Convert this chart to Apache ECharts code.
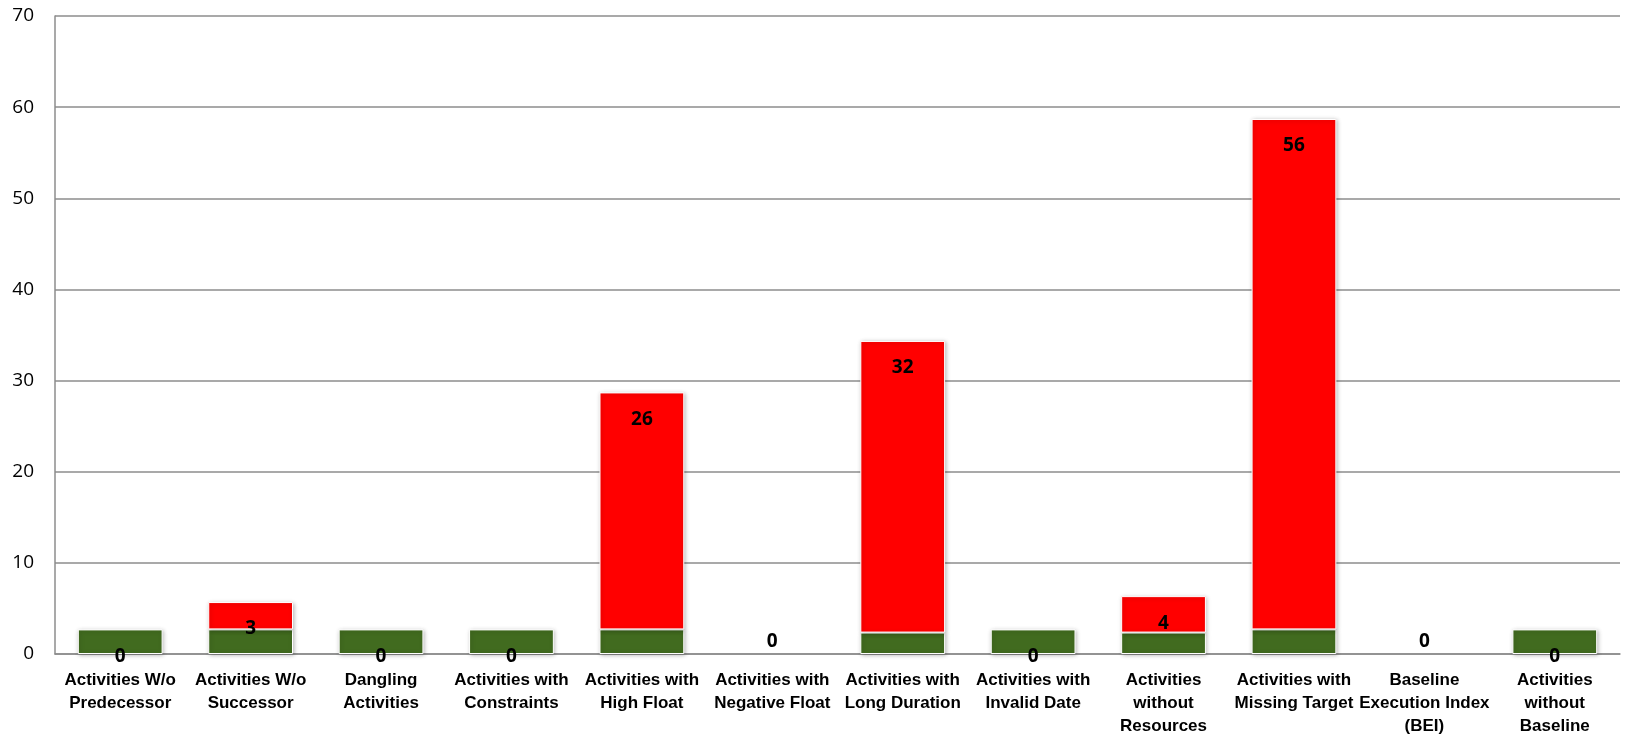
<!DOCTYPE html>
<html>
<head>
<meta charset="utf-8">
<script src="https://cdn.jsdelivr.net/npm/echarts@6/dist/echarts.min.js"></script>
<style>
html,body{margin:0;padding:0;background:#fff;}
#chart{width:1627px;height:751px;}
</style>
</head>
<body>
<div id="chart"></div>
<script>
const categories = [
  "Activities W/o\nPredecessor",
  "Activities W/o\nSuccessor",
  "Dangling\nActivities",
  "Activities with\nConstraints",
  "Activities with\nHigh Float",
  "Activities with\nNegative Float",
  "Activities with\nLong Duration",
  "Activities with\nInvalid Date",
  "Activities\nwithout\nResources",
  "Activities with\nMissing Target",
  "Baseline\nExecution Index\n(BEI)",
  "Activities\nwithout\nBaseline"
];
const baseValues = [2.7, 2.7, 2.7, 2.7, 2.7, 0, 2.35, 2.7, 2.35, 2.7, 0, 2.7];
const issueValues = [0, 3, 0, 0, 26, 0, 32, 0, 4, 56, 0, 0];
const yTicks = { min: 0, max: 70, interval: 10 };

const GREEN = '#416B1F';
const RED = '#FF0000';
const barStyle = c => ({
  color: c,
  borderColor: '#ffffff',
  borderWidth: 1,
  shadowBlur: 4,
  shadowOffsetX: 1,
  shadowOffsetY: 1,
  shadowColor: 'rgba(0,0,0,0.25)'
});
const flatStyle = { color: 'rgba(0,0,0,0)', borderColor: 'rgba(0,0,0,0)', borderWidth: 0, shadowBlur: 0, shadowOffsetX: 0, shadowOffsetY: 0, shadowColor: 'rgba(0,0,0,0)' };

const labelFont = { fontFamily: 'Noto Sans', fontWeight: 'bold', fontSize: 19, color: '#000', lineHeight: 20 };

const greenData = baseValues.map(v => (v === 0 ? '-' : v));
const redData = issueValues.map((v, i) => {
  const item = { value: v };
  if (v === 0) item.itemStyle = flatStyle;
  if (baseValues[i] === 0) item.label = { position: 'top', distance: 2 };
  return item;
});

const chart = echarts.init(document.getElementById('chart'), null, { renderer: 'canvas' });
chart.setOption({
  animation: false,
  backgroundColor: '#ffffff',
  grid: { left: 55, right: 7, top: 16, bottom: 97, containLabel: false },
  xAxis: {
    type: 'category',
    data: categories,
    axisTick: { show: false },
    axisLine: { lineStyle: { color: '#8c8c8c', width: 1.5 } },
    axisLabel: {
      interval: 0,
      margin: 15,
      fontFamily: 'Liberation Sans Narrow, Liberation Sans, Arial Narrow, sans-serif',
      fontWeight: 'bold',
      fontSize: 17,
      lineHeight: 23,
      color: '#000'
    }
  },
  yAxis: {
    type: 'value',
    min: yTicks.min,
    max: yTicks.max,
    interval: yTicks.interval,
    axisLine: { show: true, lineStyle: { color: '#8c8c8c', width: 1.5 } },
    axisTick: { show: false },
    splitLine: { lineStyle: { color: '#8c8c8c', width: 1.5 } },
    axisLabel: { margin: 21, fontFamily: 'Open Sans', fontSize: 19, color: '#000' }
  },
  series: [
    {
      name: 'Base',
      type: 'bar',
      stack: 'total',
      data: greenData,
      barWidth: '65%',
      itemStyle: barStyle(GREEN),
      z: 2
    },
    {
      name: 'Issues',
      type: 'bar',
      stack: 'total',
      data: redData,
      barWidth: '65%',
      itemStyle: barStyle(RED),
      z: 3,
      label: Object.assign({
        show: true,
        position: 'insideTop',
        distance: 17,
        formatter: p => String(issueValues[p.dataIndex])
      }, labelFont)
    }
  ]
});
</script>
</body>
</html>
